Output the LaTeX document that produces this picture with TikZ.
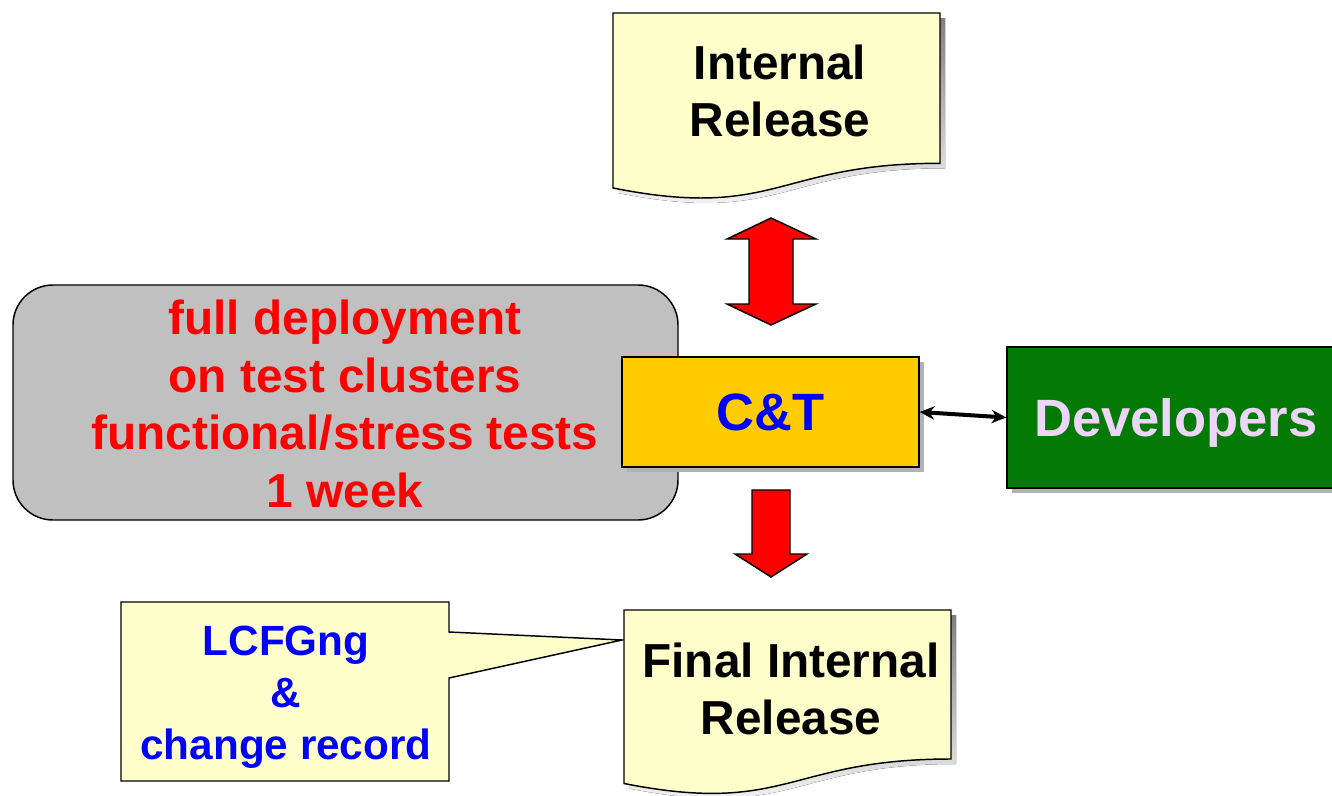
\documentclass[tikz,border=0pt]{standalone}
\usepackage{fontspec}
\setmainfont{Liberation Sans}
\usetikzlibrary{arrows.meta,shadows}

\definecolor{paper}{HTML}{FFFFCC}
\definecolor{gold}{HTML}{FFCC00}
\definecolor{stone}{HTML}{C0C0C0}
\definecolor{leaf}{RGB}{3,122,3}
\definecolor{lilac}{RGB}{238,214,250}
\definecolor{shade}{RGB}{178,178,178}
\definecolor{ink}{HTML}{0000FF}
\definecolor{alert}{HTML}{FF0000}

\begin{document}
\begin{tikzpicture}[x=0.75pt,y=-0.75pt,
  outline/.style={draw=black,line width=1.1pt},
  solidshadow/.style={general shadow={fill=shade,shadow xshift=3.75pt,shadow yshift=-3.75pt}},
  bigtext/.style={font=\fontsize{35.8}{42.75}\selectfont\bfseries,align=center,inner sep=0pt},
  redtext/.style={font=\fontsize{35.8}{43.1}\selectfont\bfseries,align=center,inner sep=0pt,text=alert},
  notetext/.style={font=\fontsize{31.7}{39}\selectfont\bfseries,align=center,inner sep=0pt,text=ink},
  boxtext/.style={font=\fontsize{39.4}{46}\selectfont\bfseries,inner sep=0pt},
  blockarrow/.style={fill=alert,draw=black,line width=1.1pt,line join=miter},
  link/.style={{Stealth[length=11pt,width=10pt]}-{Stealth[length=11pt,width=10pt]},line width=3pt}
]
\useasboundingbox (0,0) rectangle (1332,796);
\clip (0,0) rectangle (1332,796);

% top document: Internal Release
\fill[shade,shift={(5,5)}] (613,13) -- (940,13) -- (940,163.3)
  .. controls (776.5,163.3) and (776.5,220.5) .. (613,188) -- cycle;
\filldraw[fill=paper,outline] (613,13) -- (940,13) -- (940,163.3)
  .. controls (776.5,163.3) and (776.5,220.5) .. (613,188) -- cycle;
\node[bigtext] (ir) at (780,91) {Internal\\Release};

% two-way block arrow between the release and C&T
\filldraw[blockarrow] (771,218) -- (816,239) -- (793,239) -- (793,304) -- (816,304)
  -- (771,325) -- (727,304) -- (749,304) -- (749,239) -- (727,239) -- cycle;

% test phase
\node[draw=black,line width=1.1pt,fill=stone,rounded corners=30pt,
      minimum width=498.75pt,minimum height=176.25pt,inner sep=0pt] (tests) at (345.5,402.5) {};
\node[redtext] (testtext) at (345,403.8)
  {full deployment\\on test clusters\\functional/stress tests\\1 week};

% C&T and developers
\node[boxtext,outline,fill=gold,solidshadow,text=ink,
      minimum width=222.75pt,minimum height=82.5pt] (ct) at (770.5,412) {C\&T};
\node[boxtext,outline,fill=leaf,solidshadow,text=lilac,text depth=0pt,
      minimum width=253.5pt,minimum height=105.75pt] (dev) at (1176,417.5) {Developers};
\draw[link] (ct.east) -- (dev.west);

% one-way block arrow down to the final release
\filldraw[blockarrow] (752,490) -- (790,490) -- (790,554) -- (807,554) -- (771,577)
  -- (735,554) -- (752,554) -- cycle;

% callout
\coordinate (tip) at (622,640);
\filldraw[fill=paper,outline,line join=miter] (121,602) -- (449,602) -- (449,632) -- (tip)
  -- (449,678) -- (449,781) -- (121,781) -- cycle;
\node[notetext] (note) at (286,697) {LCFGng\\\&\\change record};

% bottom document: Final Internal Release
\fill[shade,shift={(5,5)}] (624,610) -- (951,610) -- (951,759)
  .. controls (787.5,759) and (787.5,815.7) .. (624,783.5) -- cycle;
\filldraw[fill=paper,outline] (624,610) -- (951,610) -- (951,759)
  .. controls (787.5,759) and (787.5,815.7) .. (624,783.5) -- cycle;
\node[bigtext] (fir) at (791,689) {Final Internal\\Release};
\end{tikzpicture}
\end{document}
